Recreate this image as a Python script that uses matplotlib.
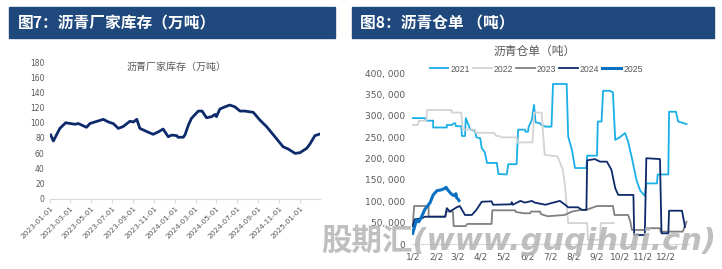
import matplotlib
matplotlib.use("Agg")
import matplotlib.pyplot as plt
import matplotlib.dates as mdates
from matplotlib.patches import Rectangle
import numpy as np
import pandas as pd

CJK = ['Noto Sans CJK SC', 'DejaVu Sans']

# ---------------- Data: left chart (沥青厂家库存, 万吨) ----------------
inv_dates = ['2023-01-02', '2023-01-10', '2023-01-29', '2023-02-15', '2023-03-14', '2023-03-24',
             '2023-04-17', '2023-04-27', '2023-06-05', '2023-06-20', '2023-07-04', '2023-07-19',
             '2023-08-02', '2023-08-22', '2023-09-01', '2023-09-11', '2023-09-20', '2023-10-15',
             '2023-10-29', '2023-11-13', '2023-11-27', '2023-12-12', '2023-12-22', '2024-01-06',
             '2024-01-10', '2024-01-25', '2024-01-30', '2024-02-09', '2024-02-18', '2024-03-09',
             '2024-03-20', '2024-04-02', '2024-04-17', '2024-04-27', '2024-05-01', '2024-05-11',
             '2024-05-26', '2024-06-09', '2024-06-24', '2024-07-09', '2024-07-23', '2024-08-17',
             '2024-09-05', '2024-09-25', '2024-10-19', '2024-11-12', '2024-11-27', '2024-12-17',
             '2024-12-31', '2025-01-20', '2025-01-29', '2025-02-13', '2025-02-25']
inv_values = [84, 76, 92.6, 100, 98, 99,
              94, 99, 104.5, 101, 99, 92.6,
              95, 102, 101, 104.5, 92.6, 87.4,
              84.8, 88, 91.7, 81.6, 83.8, 83,
              80.8, 81, 84, 97, 105.8, 115.4,
              115.4, 106.6, 108, 111, 108, 118,
              121, 123.3, 121, 115.4, 115.4, 113.7,
              103.6, 94.8, 81.6, 68.4, 65.4, 59.7,
              60.5, 66.3, 71.6, 83, 84.8]
inv_ticks = ['2023-01-01', '2023-03-01', '2023-05-01', '2023-07-01', '2023-09-01', '2023-11-01',
             '2024-01-01', '2024-03-01', '2024-05-01', '2024-07-01', '2024-09-01', '2024-11-01',
             '2025-01-01']

# ---------------- Data: right chart (沥青仓单, 吨), x = day of year ----------------
d2021 = [2, 18, 20, 29, 29, 47, 47, 54, 56, 58, 59, 66, 67, 71, 72, 78, 84, 86, 91, 93, 97, 100,
         113, 115, 126, 128, 139, 141, 150, 151, 154, 155, 159, 162, 164, 170, 171, 177, 185, 187,
         205, 207, 212, 216, 231, 232, 245, 246, 251, 253, 262, 266, 269, 275, 282, 286, 291, 297,
         302, 308, 310, 324, 325, 339, 340, 349, 352, 363]
v2021 = [295000, 295000, 289000, 289000, 273000, 273000, 279000, 279000, 283000, 283000, 276000,
         276000, 253000, 253000, 295000, 268000, 265000, 250000, 248000, 225000, 215000, 190000,
         190000, 164000, 163000, 187000, 187000, 268000, 268000, 263000, 263000, 275000, 290000,
         326000, 285000, 283000, 280000, 275000, 275000, 375000, 375000, 252000, 220000, 178000,
         178000, 207000, 207000, 287000, 287000, 359000, 359000, 355000, 244000, 250000, 260000,
         240000, 201000, 150000, 125000, 113000, 142000, 142000, 163000, 163000, 310000, 310000,
         287000, 281000]

d2022 = [2, 9, 10, 20, 21, 53, 54, 66, 68, 84, 85, 110, 112, 117, 118, 139, 140, 160, 162, 172,
         176, 193, 200, 203, 205, 207, 232, 233, 249, 250, 267]
v2022 = [279000, 279000, 289000, 289000, 314000, 314000, 308000, 308000, 268000, 268000, 261000,
         260000, 253000, 253000, 250000, 250000, 238000, 238000, 308000, 308000, 209000, 205000,
         174000, 134000, 90000, 49000, 49000, 10000, 10000, 49000, 49000]

d2023 = [2, 4, 23, 23, 45, 46, 55, 56, 72, 74, 106, 107, 137, 138, 149, 157, 158, 170, 171, 180,
         202, 212, 224, 231, 245, 266, 268, 286, 289, 291, 308, 310, 328, 329, 358, 363]
v2023 = [41000, 89000, 89000, 64000, 64000, 76000, 76000, 42000, 42000, 47000, 47000, 79000,
         79000, 75000, 72000, 72000, 76000, 76000, 70000, 65000, 68000, 76000, 80000, 80000, 89000,
         89000, 68000, 68000, 52000, 33000, 33000, 37000, 37000, 29000, 29000, 52000]

d2024 = [2, 5, 14, 18, 45, 47, 51, 60, 64, 67, 71, 80, 82, 86, 93, 106, 108, 132, 132.5, 134, 144,
         150, 157, 159, 163, 177, 183, 196, 203, 207, 220, 225, 231, 232, 242, 249, 258, 264, 269,
         273, 293, 294, 308, 310, 328, 330, 339, 340, 357, 361]
v2024 = [42000, 58000, 60000, 64000, 64000, 84000, 76000, 86000, 89000, 80000, 68000, 68000,
         72000, 80000, 99000, 100000, 92000, 93000, 98000, 92000, 101000, 97000, 100000, 101000,
         97000, 92000, 95000, 101000, 92000, 86000, 86000, 80000, 80000, 196000, 199000, 193000,
         193000, 174000, 131000, 115000, 115000, 21000, 21000, 201000, 199000, 25000, 25000, 78000,
         78000, 40000]

d2025 = [2, 7, 10, 14, 18, 25, 29, 34, 40, 45, 46, 49, 53, 57, 59, 60, 62, 63]
v2025 = [25000, 56000, 52000, 65000, 81000, 97000, 115000, 125000, 127000, 131000, 133000,
         125000, 117000, 113000, 118000, 108000, 105000, 102000]

years = ['2021', '2022', '2023', '2024', '2025']
month_ticks = [2, 33, 61, 92, 122, 153, 183, 214, 245, 275, 306, 336]
month_labels = ['1/2', '2/2', '3/2', '4/2', '5/2', '6/2', '7/2', '8/2', '9/2', '10/2', '11/2', '12/2']
wr_ticks = [0, 50000, 100000, 150000, 200000, 250000, 300000, 350000, 400000]

# ---------------- Figure ----------------
W, H = 722, 269
fig = plt.figure(figsize=(W / 100, H / 100), dpi=100)
fig.patch.set_facecolor('white')


def fx(px):
    return px / W


def fy(py):
    return 1 - py / H


HEADER = '#1F497D'
TXT = '#595959'

# headers
fig.patches.append(Rectangle((fx(9), fy(38)), fx(335 - 9), (38 - 7) / H,
                             transform=fig.transFigure, color=HEADER, zorder=0))
fig.patches.append(Rectangle((fx(352), fy(38)), fx(714 - 352), (38 - 7) / H,
                             transform=fig.transFigure, color=HEADER, zorder=0))
fig.text(fx(18), fy(23), '图7：沥青厂家库存（万吨）', color='white', fontsize=11.3,
         fontweight='bold', family=CJK, va='center', ha='left')
fig.text(fx(360), fy(23), '图8：沥青仓单 （吨）', color='white', fontsize=11.3,
         fontweight='bold', family=CJK, va='center', ha='left')

# ---------------- Left chart ----------------
axL = fig.add_axes([fx(50.3), fy(198.7), fx(320 - 50.3), (198.7 - 62) / H])
dts = pd.to_datetime(inv_dates)
axL.plot(dts, inv_values, color='#0D2A6B', lw=2.0, solid_joinstyle='round')
axL.set_ylim(0, 180)
axL.set_yticks(range(0, 181, 20))
axL.set_xlim(pd.Timestamp('2023-01-01'), pd.Timestamp('2025-02-28'))
tk = pd.to_datetime(inv_ticks)
axL.set_xticks(tk)
axL.set_xticklabels(inv_ticks, rotation=45, ha='right', rotation_mode='anchor')
for s in ['top', 'right', 'left']:
    axL.spines[s].set_visible(False)
axL.spines['bottom'].set_color('#D9D9D9')
axL.tick_params(axis='y', length=0, pad=4, labelsize=5.5, labelcolor=TXT)
axL.tick_params(axis='x', length=3, color='#D9D9D9', pad=1.5, labelsize=5.3, labelcolor=TXT)
axL.set_facecolor('none')
fig.text(fx(176.7), fy(66.7), '沥青厂家库存（万吨）', color=TXT, fontsize=7.2,
         family=CJK, ha='center', va='center')

# ---------------- Right chart ----------------
axR = fig.add_axes([fx(412.3), fy(244), fx(688.8 - 412.3), (244 - 73.3) / H])
cols = ['#1AAFE8', '#D3D3D3', '#808080', '#0D2A6B', '#0B6FC2']
lws = [1.3, 1.3, 1.3, 1.3, 2.2]
series = [(d2021, v2021), (d2022, v2022), (d2023, v2023), (d2024, v2024), (d2025, v2025)]
order = [1, 0, 2, 3, 4]
lines = {}
for i in order:
    d, v = series[i]
    ln, = axR.plot(d, v, color=cols[i], lw=lws[i], label=years[i], zorder=2 + i)
    lines[i] = ln
axR.set_xlim(1.5, 366)
axR.set_ylim(0, 400000)
axR.set_yticks(wr_ticks)
axR.set_yticklabels([f'{t:,}'.replace(',', ', ') for t in wr_ticks])
axR.set_xticks(month_ticks)
axR.set_xticklabels(month_labels)
for s in ['top', 'right', 'left']:
    axR.spines[s].set_visible(False)
axR.spines['bottom'].set_color('#D9D9D9')
axR.tick_params(axis='y', length=0, pad=5, labelsize=6.5, labelcolor=TXT)
axR.tick_params(axis='x', length=0, pad=6, labelsize=6.5, labelcolor=TXT)
axR.set_facecolor('none')
fig.text(fx(535), fy(51), '沥青仓单（吨）', color=TXT, fontsize=8.5,
         family=CJK, ha='center', va='center')
leg = axR.legend([lines[i] for i in range(5)], years, loc='center', ncol=5, frameon=False,
                 bbox_to_anchor=(fx(536), fy(69)), bbox_transform=fig.transFigure,
                 prop={'family': 'Liberation Sans', 'size': 6.2},
                 handlelength=2.2, handletextpad=0.25, columnspacing=0.3,
                 borderpad=0, borderaxespad=0)
for t in leg.get_texts():
    t.set_color(TXT)

# watermark
fig.text(fx(321), fy(240), '股期汇(www.guqihui.cn)', color='#B4B4B4', alpha=0.85,
         fontsize=22, fontweight='bold', style='italic',
         family=['DejaVu Sans', 'Noto Sans CJK SC'], ha='left', va='center', zorder=20)

fig.savefig('out.png', dpi=100, facecolor='white')
